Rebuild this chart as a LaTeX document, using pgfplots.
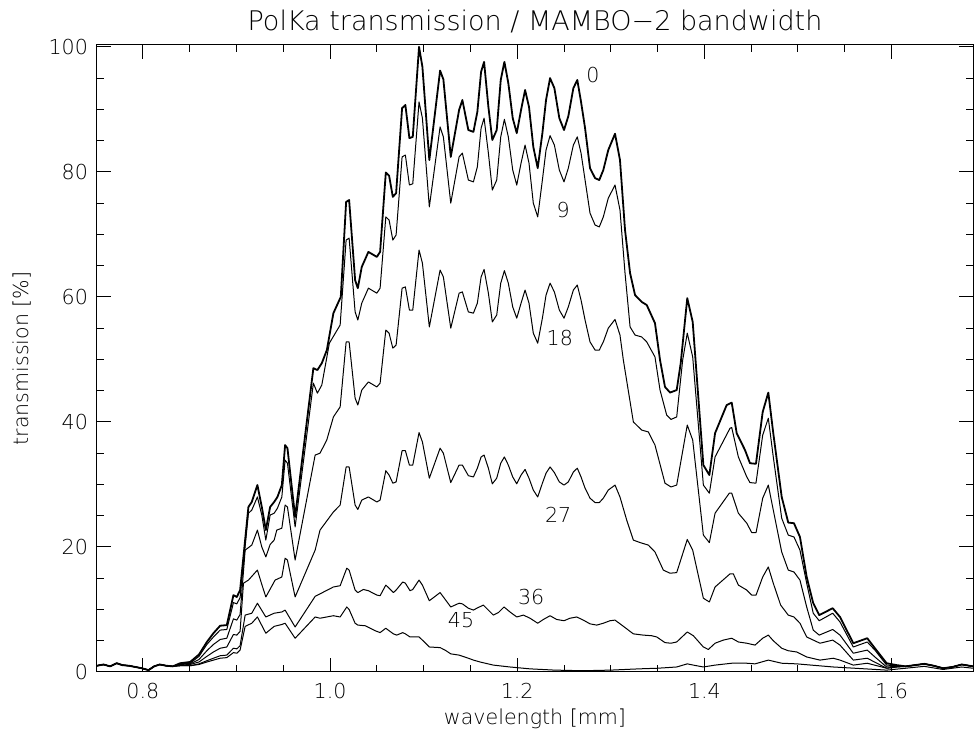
\documentclass[border=0pt]{standalone}
\usepackage{fontspec}
\setmainfont{DejaVu Sans ExtraLight}
\usepackage{pgfplots}
\pgfplotsset{compat=1.18}

% shared flat parts (below 0.84 mm and above 1.61 mm)
\def\baseline{(0.751,1.0) (0.758,1.2) (0.765,0.9) (0.772,1.4) (0.778,1.1) (0.785,1.0) (0.792,0.8) (0.799,0.6) (0.806,0.3) (0.812,0.9) (0.818,1.2) (0.825,1.0) (0.832,0.9)}
\def\tail{(1.615,0.9) (1.625,1.1) (1.635,1.3) (1.645,1.0) (1.655,0.6) (1.665,0.8) (1.675,1.2) (1.687,0.9)}

\begin{document}
\begin{tikzpicture}[font=\fontsize{10.3}{12}\selectfont]
\begin{axis}[
  scale only axis,
  width=438pt, height=313.5pt,
  xmin=0.751, xmax=1.687,
  ymin=0, ymax=100.3,
  xtick={0.8,1.0,1.2,1.4,1.6},
  ytick={0,20,40,60,80,100},
  minor x tick num=3,
  minor y tick num=3,
  tick align=inside,
  major tick length=7pt,
  minor tick length=3.5pt,
  every tick/.style={black, line width=0.5pt},
  axis line style={line width=0.5pt},
  /pgf/number format/assume math mode=true,
  xticklabel style={yshift=-2pt, /pgf/number format/.cd, fixed, fixed zerofill, precision=1},
  yticklabel style={xshift=-1pt},
  title={PolKa transmission / MAMBO−2 bandwidth},
  every axis title/.style={at={(axis description cs:0.5,1.0367)}, anchor=center, font=\fontsize{13.5}{16}\selectfont},
  xlabel={wavelength [mm]},
  ylabel={transmission [\%]},
  xlabel style={at={(axis description cs:0.5,-0.0745)}, anchor=center},
  ylabel style={at={(axis description cs:-0.0856,0.5)}, anchor=center},
]
\coordinate (sw) at (rel axis cs:0,0);
\coordinate (ne) at (rel axis cs:1,1);

% 0 deg
\addplot[black, line width=0.9pt, line join=round] coordinates {
\baseline
(0.8398,1.4) (0.8505,1.6) (0.8600,2.8) (0.8684,4.8) (0.8754,6.2) (0.8826,7.4) (0.8897,7.5) (0.8968,12.3) (0.9004,12.0) (0.9039,13.1)
(0.9128,26.4) (0.9164,27.2) (0.9224,29.9) (0.9271,26.4) (0.9314,22.7) (0.9360,26.4) (0.9403,27.2) (0.9438,28.0) (0.9485,29.9) (0.9520,36.3)
(0.9545,35.8) (0.9627,24.8) (0.9822,48.6) (0.9865,48.3) (0.9912,49.4) (0.9966,51.5) (1.0036,57.4) (1.0115,60.0) (1.0172,75.2) (1.0204,75.5)
(1.0268,62.7) (1.0297,61.4) (1.0339,64.8) (1.0410,67.2) (1.0500,66.4) (1.0535,67.2) (1.0596,79.9) (1.0631,79.4) (1.0671,76.0) (1.0706,76.6)
(1.0770,90.2) (1.0805,90.7) (1.0848,85.4) (1.0884,85.6) (1.0951,100.0) (1.0987,96.8) (1.1061,81.9) (1.1176,96.2) (1.1211,94.8) (1.1290,82.4)
(1.1379,89.9) (1.1414,91.5) (1.1478,86.7) (1.1532,86.4) (1.1574,89.6) (1.1614,96.0) (1.1646,97.6) (1.1692,90.4) (1.1734,85.1) (1.1781,86.7)
(1.1824,94.7) (1.1863,97.6) (1.1905,94.2) (1.1952,88.6) (1.1995,86.2) (1.2041,89.9) (1.2084,93.1) (1.2126,90.4) (1.2172,84.0) (1.2219,80.6)
(1.2269,86.2) (1.2308,91.5) (1.2351,95.0) (1.2397,93.4) (1.2450,88.6) (1.2500,86.7) (1.2546,88.9) (1.2600,93.4) (1.2642,94.7) (1.2682,91.2)
(1.2725,87.0) (1.2778,80.6) (1.2832,79.0) (1.2877,78.7) (1.2920,80.3) (1.2973,83.5) (1.3045,86.1) (1.3098,81.9) (1.3152,70.7) (1.3206,63.8)
(1.3259,60.3) (1.3330,59.2) (1.3384,58.7) (1.3472,55.8) (1.3526,49.9) (1.3579,45.6) (1.3633,44.7) (1.3704,45.1) (1.3747,49.4) (1.3817,59.8)
(1.3875,56.0) (1.3989,33.1) (1.4053,31.5) (1.4114,38.2) (1.4238,42.7) (1.4292,43.1) (1.4345,38.2) (1.4434,35.5) (1.4487,33.4) (1.4551,33.3)
(1.4623,41.6) (1.4683,44.7) (1.4736,38.2) (1.4826,28.0) (1.4896,23.9) (1.4957,23.8) (1.5021,21.6) (1.5093,15.2) (1.5163,11.0) (1.5227,9.1)
(1.5371,10.2) (1.5449,8.8) (1.5591,4.6) (1.5740,5.4) (1.5822,3.8) (1.5947,1.4) (1.6054,1.1)
\tail
};

% 9 deg
\addplot[black, line width=0.5pt, line join=round] coordinates {
\baseline
(0.8398,1.3) (0.8505,1.4) (0.8600,2.5) (0.8684,4.4) (0.8754,5.6) (0.8826,6.7) (0.8897,6.8) (0.8968,11.1) (0.9004,10.9) (0.9039,11.9)
(0.9128,25.4) (0.9164,25.9) (0.9224,28.0) (0.9271,25.1) (0.9314,21.1) (0.9360,25.1) (0.9403,25.4) (0.9438,26.2) (0.9485,28.0) (0.9520,33.9)
(0.9545,33.4) (0.9627,23.2) (0.9822,46.2) (0.9865,44.6) (0.9912,45.9) (0.9993,52.6) (1.0108,55.5) (1.0172,69.1) (1.0204,69.4) (1.0268,57.6)
(1.0297,56.3) (1.0339,59.0) (1.0410,61.4) (1.0500,60.6) (1.0535,61.4) (1.0596,72.8) (1.0631,72.3) (1.0671,69.1) (1.0706,69.9) (1.0770,82.4)
(1.0805,82.7) (1.0848,77.9) (1.0884,78.1) (1.0951,91.2) (1.0987,88.6) (1.1061,74.4) (1.1176,87.2) (1.1211,85.6) (1.1290,75.0) (1.1379,82.4)
(1.1414,83.0) (1.1478,78.7) (1.1532,78.4) (1.1574,80.8) (1.1614,87.0) (1.1646,88.6) (1.1692,83.0) (1.1734,77.1) (1.1781,78.7) (1.1824,85.6)
(1.1863,88.4) (1.1905,85.6) (1.1952,80.3) (1.1995,77.9) (1.2041,81.4) (1.2084,84.3) (1.2126,81.4) (1.2172,75.0) (1.2219,72.8) (1.2269,78.7)
(1.2308,83.5) (1.2351,85.8) (1.2397,84.3) (1.2450,80.3) (1.2500,78.4) (1.2546,80.6) (1.2600,84.3) (1.2642,85.6) (1.2682,83.0) (1.2725,78.7)
(1.2778,73.4) (1.2832,71.5) (1.2877,71.2) (1.2920,72.8) (1.2973,75.8) (1.3045,77.9) (1.3098,73.9) (1.3152,63.8) (1.3206,55.2) (1.3259,53.9)
(1.3330,53.6) (1.3384,52.8) (1.3472,50.4) (1.3526,45.1) (1.3597,41.1) (1.3643,40.4) (1.3704,40.8) (1.3768,49.9) (1.3817,54.2) (1.3875,50.4)
(1.3989,29.9) (1.4053,28.6) (1.4114,34.4) (1.4274,39.0) (1.4292,39.1) (1.4363,34.4) (1.4453,31.2) (1.4487,30.3) (1.4551,30.2) (1.4623,37.9)
(1.4683,40.6) (1.4736,34.4) (1.4826,24.6) (1.4896,21.9) (1.4957,21.6) (1.5021,19.5) (1.5093,14.2) (1.5163,9.4) (1.5227,8.2) (1.5371,9.4)
(1.5449,8.0) (1.5591,4.0) (1.5740,4.8) (1.5822,3.5) (1.5947,1.1) (1.6054,1.0)
\tail
};

% 18 deg
\addplot[black, line width=0.5pt, line join=round] coordinates {
\baseline
(0.8398,1.2) (0.8505,1.3) (0.8600,2.0) (0.8684,3.4) (0.8754,4.4) (0.8826,5.2) (0.8897,5.4) (0.8968,8.5) (0.9004,8.3) (0.9039,9.2)
(0.9093,19.5) (0.9164,20.3) (0.9224,22.7) (0.9271,20.0) (0.9314,18.4) (0.9360,20.4) (0.9403,21.1) (0.9431,22.7) (0.9485,23.0) (0.9520,26.7)
(0.9545,26.4) (0.9627,17.9) (0.9841,34.7) (0.9893,35.0) (0.9965,37.1) (1.0036,40.8) (1.0108,42.4) (1.0172,52.8) (1.0204,52.8) (1.0268,43.8)
(1.0297,42.7) (1.0339,45.1) (1.0410,46.4) (1.0500,45.6) (1.0535,46.2) (1.0596,54.7) (1.0631,54.2) (1.0671,51.8) (1.0706,52.3) (1.0770,61.4)
(1.0805,61.6) (1.0848,57.9) (1.0884,57.9) (1.0951,67.5) (1.0987,65.4) (1.1061,55.2) (1.1176,64.3) (1.1211,63.2) (1.1290,55.0) (1.1379,60.6)
(1.1414,60.8) (1.1478,57.6) (1.1532,57.4) (1.1574,59.0) (1.1614,63.2) (1.1646,64.4) (1.1692,60.6) (1.1734,56.0) (1.1781,57.1) (1.1824,62.2)
(1.1863,64.2) (1.1905,62.2) (1.1952,58.4) (1.1995,56.6) (1.2041,59.0) (1.2084,61.1) (1.2126,59.0) (1.2172,54.2) (1.2219,52.6) (1.2269,56.6)
(1.2308,60.3) (1.2351,62.2) (1.2397,60.8) (1.2450,57.9) (1.2500,56.6) (1.2546,58.4) (1.2600,61.1) (1.2642,61.9) (1.2682,59.5) (1.2725,56.3)
(1.2778,52.8) (1.2832,51.5) (1.2877,51.5) (1.2920,52.8) (1.2973,55.0) (1.3045,56.4) (1.3098,53.9) (1.3134,49.9) (1.3241,40.0) (1.3330,38.7)
(1.3401,38.4) (1.3472,36.3) (1.3579,30.2) (1.3643,29.6) (1.3704,29.9) (1.3817,39.5) (1.3875,37.1) (1.3989,21.9) (1.4053,20.7) (1.4114,25.4)
(1.4266,28.6) (1.4292,28.6) (1.4363,25.4) (1.4453,23.8) (1.4506,22.3) (1.4552,22.3) (1.4623,27.8) (1.4683,29.9) (1.4736,25.9) (1.4826,19.2)
(1.4896,16.3) (1.4957,16.0) (1.5021,14.7) (1.5093,10.4) (1.5163,6.7) (1.5227,5.9) (1.5371,6.8) (1.5449,5.9) (1.5591,3.0) (1.5740,3.5)
(1.5822,2.4) (1.5947,0.8) (1.6054,0.9)
\tail
};

% 27 deg
\addplot[black, line width=0.5pt, line join=round] coordinates {
\baseline
(0.8398,1.1) (0.8505,1.2) (0.8600,1.6) (0.8684,2.5) (0.8754,3.2) (0.8826,3.8) (0.8897,4.0) (0.8968,6.0) (0.9004,5.9) (0.9039,6.5)
(0.9075,14.2) (0.9128,14.7) (0.9224,16.3) (0.9271,14.0) (0.9314,12.0) (0.9413,14.7) (0.9485,15.2) (0.9520,18.2) (0.9545,17.9) (0.9627,12.0)
(0.9841,19.5) (0.9893,22.7) (1.0036,25.6) (1.0108,26.7) (1.0172,32.8) (1.0204,32.8) (1.0268,26.7) (1.0297,26.0) (1.0339,27.5) (1.0410,28.0)
(1.0500,27.2) (1.0535,27.5) (1.0596,32.2) (1.0631,31.5) (1.0671,30.2) (1.0706,30.4) (1.0770,35.4) (1.0805,35.4) (1.0848,33.1) (1.0884,33.1)
(1.0951,38.3) (1.0987,36.8) (1.1061,31.0) (1.1176,35.8) (1.1211,35.0) (1.1290,30.3) (1.1379,33.1) (1.1414,33.1) (1.1478,31.4) (1.1532,31.2)
(1.1574,32.6) (1.1614,34.4) (1.1646,34.7) (1.1692,32.6) (1.1734,30.1) (1.1781,31.0) (1.1824,33.4) (1.1863,34.4) (1.1905,33.1) (1.1952,31.2)
(1.1995,30.1) (1.2041,31.5) (1.2084,32.4) (1.2126,31.0) (1.2172,29.1) (1.2219,28.0) (1.2269,30.2) (1.2308,31.8) (1.2351,32.8) (1.2397,31.9)
(1.2450,30.4) (1.2500,29.9) (1.2546,30.4) (1.2600,32.0) (1.2642,32.6) (1.2682,31.2) (1.2725,29.4) (1.2778,27.8) (1.2832,27.1) (1.2877,27.1)
(1.2920,27.8) (1.2973,29.1) (1.3045,29.9) (1.3098,28.0) (1.3170,24.3) (1.3241,21.1) (1.3313,20.7) (1.3401,20.3) (1.3472,19.2) (1.3561,16.3)
(1.3633,15.8) (1.3704,15.9) (1.3817,21.2) (1.3875,19.5) (1.3989,11.8) (1.4053,11.2) (1.4114,13.6) (1.4274,15.7) (1.4309,15.7) (1.4363,13.9)
(1.4453,13.1) (1.4506,12.3) (1.4552,12.3) (1.4623,15.2) (1.4683,16.8) (1.4736,14.2) (1.4815,10.7) (1.4896,9.1) (1.4957,8.8) (1.5021,7.8)
(1.5093,5.6) (1.5235,4.6) (1.5371,5.1) (1.5449,4.3) (1.5591,1.9) (1.5740,2.2) (1.5947,0.6) (1.6054,0.8)
\tail
};

% 36 deg
\addplot[black, line width=0.5pt, line join=round] coordinates {
\baseline
(0.8398,1.0) (0.8505,1.0) (0.8600,1.3) (0.8684,1.8) (0.8754,2.2) (0.8826,2.6) (0.8897,2.7) (0.8968,3.8) (0.9004,3.7) (0.9039,4.2)
(0.9093,9.1) (0.9164,9.4) (0.9224,11.0) (0.9314,8.8) (0.9403,9.4) (0.9485,9.6) (0.9520,9.9) (0.9627,7.2) (0.9841,12.1) (0.9893,12.5)
(1.0036,13.6) (1.0108,13.8) (1.0179,16.6) (1.0204,16.3) (1.0268,13.1) (1.0297,12.7) (1.0356,13.2) (1.0410,13.0) (1.0500,12.3) (1.0535,12.2)
(1.0596,13.9) (1.0631,13.4) (1.0677,12.7) (1.0706,13.1) (1.0777,14.4) (1.0805,14.2) (1.0855,13.0) (1.0884,13.2) (1.0951,14.7) (1.0987,13.9)
(1.1061,11.4) (1.1176,12.7) (1.1211,12.0) (1.1290,10.4) (1.1379,11.0) (1.1414,10.9) (1.1478,10.2) (1.1532,9.9) (1.1568,10.2) (1.1638,10.7)
(1.1692,9.9) (1.1745,9.1) (1.1799,9.5) (1.1859,10.4) (1.1923,9.6) (1.1995,8.8) (1.2066,9.1) (1.2137,8.6) (1.2219,7.8) (1.2279,8.4)
(1.2351,9.0) (1.2422,8.4) (1.2500,8.2) (1.2564,8.6) (1.2636,8.8) (1.2706,8.3) (1.2778,7.7) (1.2850,7.5) (1.2920,7.8) (1.2992,8.2)
(1.3045,8.3) (1.3117,7.5) (1.3241,6.1) (1.3347,5.9) (1.3437,5.8) (1.3491,5.6) (1.3579,4.7) (1.3643,4.6) (1.3704,4.8) (1.3817,6.4)
(1.3882,5.8) (1.3989,4.0) (1.4042,3.6) (1.4114,4.6) (1.4202,5.1) (1.4292,5.4) (1.4363,4.8) (1.4453,4.6) (1.4541,4.3) (1.4623,5.4)
(1.4683,5.9) (1.4736,5.0) (1.4826,3.8) (1.4896,3.4) (1.4986,3.2) (1.5093,2.4) (1.5235,1.9) (1.5377,2.2) (1.5449,1.9) (1.5591,1.1)
(1.5740,1.4) (1.5947,0.6) (1.6054,0.8)
\tail
};

% 45 deg
\addplot[black, line width=0.5pt, line join=round] coordinates {
\baseline
(0.8398,1.0) (0.8505,1.0) (0.8600,1.2) (0.8684,1.6) (0.8754,1.9) (0.8826,2.2) (0.8897,2.3) (0.8968,3.1) (0.9004,3.0) (0.9039,3.5)
(0.9093,7.3) (0.9164,7.8) (0.9224,8.8) (0.9314,6.2) (0.9403,7.3) (0.9485,7.6) (0.9520,7.8) (0.9627,5.4) (0.9841,8.8) (0.9893,8.6)
(1.0036,9.0) (1.0108,8.8) (1.0179,10.4) (1.0204,10.0) (1.0268,7.8) (1.0297,7.5) (1.0375,7.4) (1.0482,6.6) (1.0535,6.3) (1.0596,7.0)
(1.0631,6.6) (1.0677,6.1) (1.0713,5.9) (1.0777,6.3) (1.0805,6.1) (1.0855,5.6) (1.0951,5.6) (1.0987,5.1) (1.1061,4.0) (1.1176,3.9)
(1.1229,3.5) (1.1290,2.9) (1.1379,2.7) (1.1478,2.2) (1.1532,1.9) (1.1603,1.6) (1.1745,1.1) (1.1923,0.8) (1.2137,0.5) (1.2400,0.3)
(1.2700,0.2) (1.3000,0.3) (1.3300,0.5) (1.3500,0.6) (1.3704,0.8) (1.3817,1.3) (1.3882,1.1) (1.3989,0.8) (1.4114,1.1) (1.4292,1.4)
(1.4453,1.4) (1.4541,1.3) (1.4683,1.9) (1.4826,1.4) (1.4986,1.3) (1.5377,0.8) (1.5947,0.3) (1.615,0.6) (1.635,0.9) (1.655,0.4)
(1.675,0.8) (1.687,0.6)
};

\node at (axis cs:1.281,95.5) {0};
\node at (axis cs:1.249,73.9) {9};
\node at (axis cs:1.2455,53.4) {18};
\node at (axis cs:1.2437,25.1) {27};
\node at (axis cs:1.2149,12.0) {36};
\node at (axis cs:1.140,8.3) {45};
\end{axis}
\pgfresetboundingbox
\path[use as bounding box] ([xshift=-48.5pt,yshift=-33.5pt]sw) rectangle ([xshift=1pt,yshift=22.5pt]ne);
\end{tikzpicture}
\end{document}
